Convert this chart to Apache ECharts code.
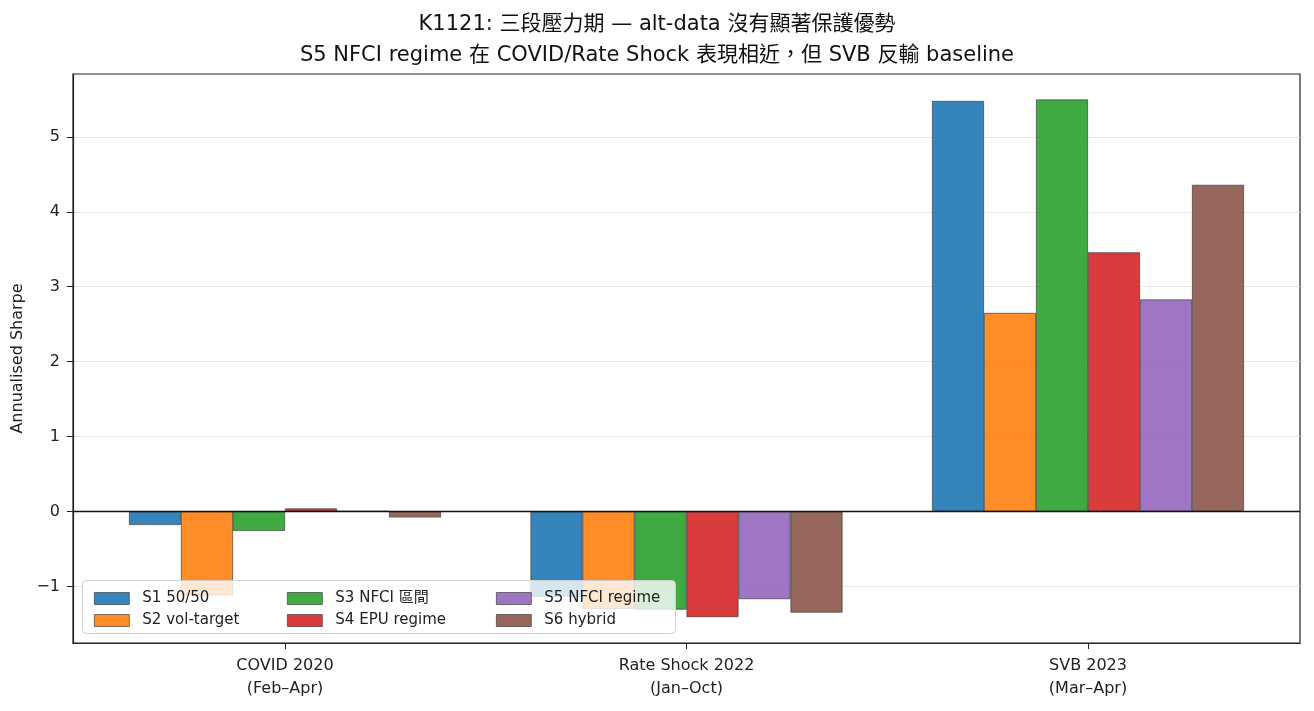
<!DOCTYPE html>
<html>
<head>
<meta charset="utf-8">
<script src="https://cdn.jsdelivr.net/npm/echarts@6/dist/echarts.min.js"></script>
<style>
  html, body { margin: 0; padding: 0; background: #fff; }
  #chart { width: 1314px; height: 711px; }
</style>
</head>
<body>
<div id="chart"></div>
<script>
var periods = ['COVID 2020\n(Feb–Apr)', 'Rate Shock 2022\n(Jan–Oct)', 'SVB 2023\n(Mar–Apr)'];
var seriesNames = ['S1 50/50', 'S2 vol-target', 'S3 NFCI 區間', 'S4 EPU regime', 'S5 NFCI regime', 'S6 hybrid'];
var colors = ['#1f77b4', '#ff7f0e', '#2ca02c', '#d62728', '#9467bd', '#8c564b'];
// Sharpe per period, one array per strategy
var s1 = [-0.18, -1.14, 5.48];
var s2 = [-1.12, -1.30, 2.65];
var s3 = [-0.26, -1.31, 5.50];
var s4 = [0.04, -1.41, 3.46];
var s5 = [0.005, -1.17, 2.83];
var s6 = [-0.08, -1.35, 4.36];
var yTicks = [-1, 0, 1, 2, 3, 4, 5];

var allValues = [s1, s2, s3, s4, s5, s6];
var font = '"DejaVu Sans", "Noto Sans CJK TC", sans-serif';

var chart = echarts.init(document.getElementById('chart'));

var series = [];
for (var i = 0; i < allValues.length; i++) {
    var d = [];
    for (var j = 0; j < allValues[i].length; j++) {
        d.push([j, allValues[i][j]]);
    }
    var s = {
        name: seriesNames[i],
        type: 'bar',
        data: d,
        barWidth: 52,
        barGap: '0%',
        itemStyle: {
            color: colors[i],
            opacity: 0.9,
            borderColor: '#333',
            borderWidth: 0.7
        },
        emphasis: { disabled: true }
    };
    if (i == 0) {
        s.markLine = {
            silent: true,
            symbol: 'none',
            label: { show: false },
            lineStyle: { color: '#111', width: 1.4, type: 'solid' },
            data: [{ yAxis: 0 }]
        };
    }
    series.push(s);
}

// legend drawn column by column, like matplotlib ncol=3
function legendCol(names, left) {
    return {
        orient: 'vertical',
        left: left,
        top: 586,
        z: 10,
        itemWidth: 35,
        itemHeight: 12,
        itemGap: 7,
        icon: 'rect',
        data: names,
        textStyle: { fontFamily: font, fontSize: 15, color: '#222', padding: [0, 0, 0, 8] },
        itemStyle: { borderColor: '#333', borderWidth: 0.7 }
    };
}

var option = {
    animation: false,
    color: colors,
    title: {
        text: 'K1121: 三段壓力期 — alt-data 沒有顯著保護優勢\nS5 NFCI regime 在 COVID/Rate Shock 表現相近，但 SVB 反輸 baseline',
        left: 'center',
        top: 4,
        textStyle: { fontFamily: font, fontSize: 21, fontWeight: 'normal', color: '#111', lineHeight: 31 }
    },
    grid: {
        left: 73, right: 14, top: 74, bottom: 68,
        show: true, borderColor: '#222', borderWidth: 1.2, backgroundColor: 'transparent'
    },
    legend: [
        legendCol([seriesNames[0], seriesNames[1]], 89),
        legendCol([seriesNames[2], seriesNames[3]], 282),
        legendCol([seriesNames[4], seriesNames[5]], 491)
    ],
    graphic: [{
        type: 'rect',
        left: 82, top: 580, z: 8,
        shape: { width: 593, height: 53, r: 4 },
        style: { fill: 'rgba(255,255,255,0.8)', stroke: '#d0d0d0', lineWidth: 1 },
        silent: true
    }],
    xAxis: {
        type: 'value',
        min: -0.528,
        max: 2.528,
        splitLine: { show: false },
        axisLine: { show: true, onZero: false, lineStyle: { color: '#222', width: 1.2 } },
        axisTick: { show: true, customValues: [0, 1, 2], length: 6, lineStyle: { color: '#222' } },
        axisLabel: {
            customValues: [0, 1, 2],
            formatter: function (v) { return periods[Math.round(v)]; },
            fontFamily: font, fontSize: 16, color: '#222', lineHeight: 23, margin: 11
        }
    },
    yAxis: {
        type: 'value',
        min: -1.756,
        max: 5.84,
        name: 'Annualised Sharpe',
        nameLocation: 'middle',
        nameGap: 42,
        nameTextStyle: { fontFamily: font, fontSize: 16, color: '#222' },
        axisLine: { show: true, onZero: false, lineStyle: { color: '#222', width: 1.2 } },
        axisTick: { show: true, customValues: yTicks, length: 6, lineStyle: { color: '#222' } },
        axisLabel: {
            customValues: yTicks,
            formatter: function (v) { return v < 0 ? '−' + Math.abs(v) : String(v); },
            fontFamily: font, fontSize: 16, color: '#222', margin: 13
        },
        splitLine: { show: true, lineStyle: { color: '#e6e6e6', width: 1 } }
    },
    series: series
};

chart.setOption(option);
</script>
</body>
</html>
